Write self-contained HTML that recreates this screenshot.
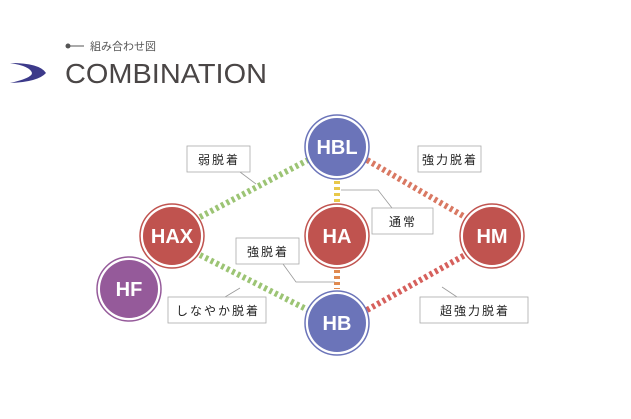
<!DOCTYPE html>
<html><head><meta charset="utf-8"><style>
body{margin:0;background:#fff;width:631px;height:419px;overflow:hidden}
svg{display:block}
text{font-family:"Liberation Sans","Noto Sans CJK JP",sans-serif}
</style></head><body>
<svg width="631" height="419" viewBox="0 0 631 419">
<!-- header -->
<circle cx="68" cy="46" r="2.5" fill="#555"/>
<line x1="70" y1="46" x2="84" y2="46" stroke="#555" stroke-width="1"/>
<text x="90" y="50" font-size="11" fill="#555">組み合わせ図</text>
<path d="M10 63 Q40 63 46 73 Q38 82 10 83 Q32 78 32 73 Q30 66 10 63Z" fill="#3c3a8a"/>
<text x="65" y="83" font-size="28" fill="#4a4646" textLength="202" lengthAdjust="spacingAndGlyphs">COMBINATION</text>
<!-- connectors -->
<g stroke-width="6" stroke-dasharray="3 3" fill="none">
<line x1="200" y1="217" x2="308" y2="160" stroke="#9cc474"/>
<line x1="200" y1="255" x2="308" y2="310" stroke="#9cc474"/>
<line x1="367" y1="160" x2="465" y2="217" stroke="#d97862"/>
<line x1="367" y1="310" x2="465" y2="255" stroke="#d6605c"/>
<line x1="337" y1="181" x2="337" y2="202" stroke="#e8c84a"/>
<line x1="337" y1="270" x2="337" y2="289" stroke="#e08a50"/>
</g>
<!-- leaders -->
<g stroke="#999" stroke-width="0.8" fill="none">
<polyline points="240,172 256,184"/>
<polyline points="341,190 378,190 392,208"/>
<polyline points="283,264 296,282 335,282"/>
<polyline points="225,297 240,288"/>
<polyline points="457,297 442,287"/>
</g>
<!-- boxes -->
<g fill="#fff" stroke="#aaa" stroke-width="0.8">
<rect x="187" y="146" width="63" height="26"/>
<rect x="418" y="146" width="63" height="26"/>
<rect x="372" y="208" width="61" height="26"/>
<rect x="236" y="238" width="63" height="26"/>
<rect x="168" y="297" width="98" height="26"/>
<rect x="420" y="297" width="108" height="26"/>
</g>
<g font-size="12" fill="#222" text-anchor="middle" letter-spacing="2">
<text x="219" y="164">弱脱着</text>
<text x="450" y="164">強力脱着</text>
<text x="403" y="226">通常</text>
<text x="268" y="256">強脱着</text>
<text x="218" y="315">しなやか脱着</text>
<text x="475" y="315">超強力脱着</text>
</g>
<!-- nodes -->
<g text-anchor="middle" font-weight="bold" font-size="20" fill="#fff">
<g><circle cx="337" cy="147" r="32" fill="#fff" stroke="#6b74b9" stroke-width="1.5"/><circle cx="337" cy="147" r="29" fill="#6b74b9"/><text x="337" y="154">HBL</text></g>
<g><circle cx="172" cy="236" r="32" fill="#fff" stroke="#c0534f" stroke-width="1.5"/><circle cx="172" cy="236" r="29" fill="#c0534f"/><text x="172" y="243">HAX</text></g>
<g><circle cx="337" cy="236" r="32" fill="#fff" stroke="#c0534f" stroke-width="1.5"/><circle cx="337" cy="236" r="29" fill="#c0534f"/><text x="337" y="243">HA</text></g>
<g><circle cx="492" cy="236" r="32" fill="#fff" stroke="#c0534f" stroke-width="1.5"/><circle cx="492" cy="236" r="29" fill="#c0534f"/><text x="492" y="243">HM</text></g>
<g><circle cx="129" cy="289" r="32" fill="#fff" stroke="#955a9a" stroke-width="1.5"/><circle cx="129" cy="289" r="29" fill="#955a9a"/><text x="129" y="296">HF</text></g>
<g><circle cx="337" cy="323" r="32" fill="#fff" stroke="#6b74b9" stroke-width="1.5"/><circle cx="337" cy="323" r="29" fill="#6b74b9"/><text x="337" y="330">HB</text></g>
</g>
</svg>
</body></html>
